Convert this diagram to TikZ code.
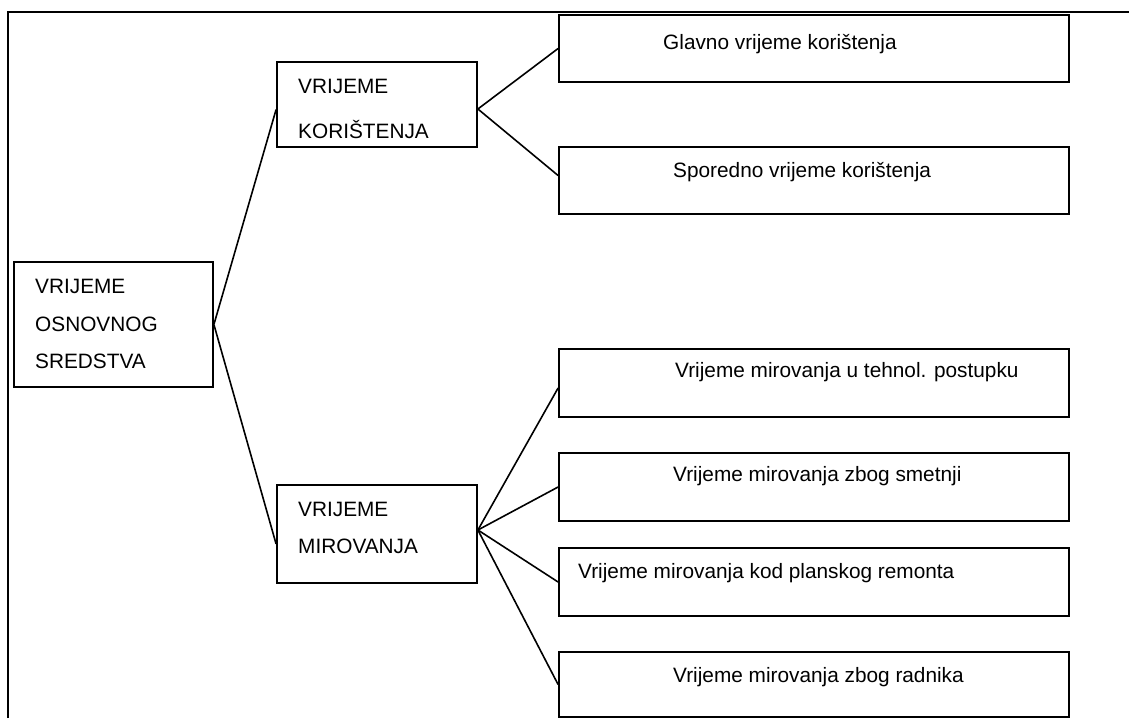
\documentclass[tikz,border=0pt]{standalone}
\usepackage{fontspec}
\setmainfont{Liberation Sans}
\begin{document}
\begin{tikzpicture}[x=1pt,y=-1pt,
  box/.style={draw=black,line width=1.8pt,inner sep=0pt,fill=white},
  txt/.style={anchor=base west,inner sep=0pt,font=\fontsize{20.8}{25}\selectfont},
  link/.style={draw=black,line width=1.6pt},
  frame/.style={draw=black,line width=2.2pt}]
\useasboundingbox (0,0) rectangle (1129,718);
\coordinate (fc) at (8,718);
\coordinate (ft) at (8,12);
\coordinate (fr) at (1129,12);
\draw[frame] (fc) -- (ft) -- (fr);
% boxes
\node[box,minimum width=199pt,minimum height=125pt] (root) at (113.5,324.5) {};
\node[box,minimum width=200pt,minimum height=85pt] (kor) at (377,104.5) {};
\node[box,minimum width=200pt,minimum height=98pt] (mir) at (377,534) {};
\node[box,minimum width=510pt,minimum height=67pt] (b1) at (814,48.5) {};
\node[box,minimum width=510pt,minimum height=67pt] (b2) at (814,180.5) {};
\node[box,minimum width=510pt,minimum height=68pt] (b3) at (814,383) {};
\node[box,minimum width=510pt,minimum height=68pt] (b4) at (814,487) {};
\node[box,minimum width=510pt,minimum height=68pt] (b5) at (814,582) {};
\node[box,minimum width=510pt,minimum height=65pt] (b6) at (814,684.5) {};
% texts
\node[txt] (r1) at (35,293) {VRIJEME};
\node[txt] (r2) at (35,331) {OSNOVNOG};
\node[txt] (r3) at (35,368) {SREDSTVA};
\node[txt] (k1) at (298,93) {VRIJEME};
\node[txt] (k2) at (298,138) {KORIŠTENJA};
\node[txt] (m1) at (298,516) {VRIJEME};
\node[txt] (m2) at (298,553) {MIROVANJA};
\node[txt] (t1) at (663,49) {Glavno vrijeme korištenja};
\node[txt] (t2) at (673,177) {Sporedno vrijeme korištenja};
\node[txt] (t3) at (675,377) {Vrijeme mirovanja u tehnol. postupku};
\node[txt] (t4) at (673,481) {Vrijeme mirovanja zbog smetnji};
\node[txt] (t5) at (578,578) {Vrijeme mirovanja kod planskog remonta};
\node[txt] (t6) at (673,682) {Vrijeme mirovanja zbog radnika};
% connectors
\draw[link] (root.east) -- ([yshift=-5pt]kor.west);
\draw[link] (root.east) -- ([yshift=-10pt]mir.west);
\draw[link] ([yshift=-4.5pt]kor.east) -- (b1.west);
\draw[link] ([yshift=-4.5pt]kor.east) -- ([yshift=5pt]b2.west);
\draw[link] ([yshift=4pt]mir.east) -- ([yshift=-5pt]b3.west);
\draw[link] ([yshift=4pt]mir.east) -- (b4.west);
\draw[link] ([yshift=4pt]mir.east) -- (b5.west);
\draw[link] ([yshift=4pt]mir.east) -- (b6.west);
\end{tikzpicture}
\end{document}
